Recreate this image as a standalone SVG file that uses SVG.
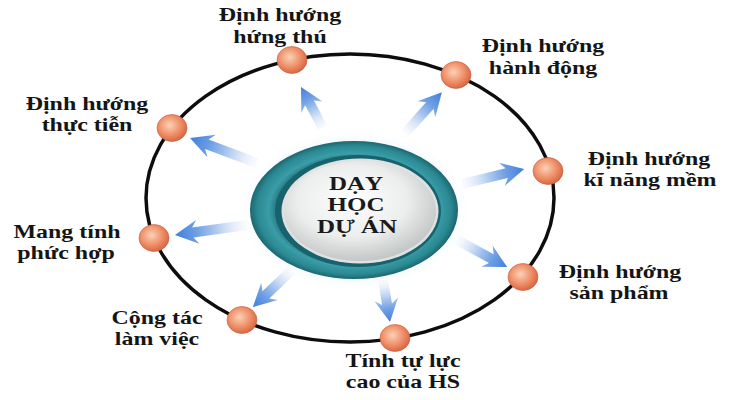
<svg xmlns="http://www.w3.org/2000/svg" width="730" height="400" viewBox="0 0 730 400">
  <defs>
    <style>
      .lbl { font-size: 18px; fill: #151515; text-anchor: middle; font-weight: bold; }
      .ctr { font-size: 18.5px; fill: #1a1a1a; text-anchor: middle; font-weight: bold; }
      .dot { fill: url(#dotGrad); stroke: #c9593a; stroke-width: 0.6; }
      .arr { fill: url(#arrGrad); }
    </style>
    <radialGradient id="dotGrad" cx="0.42" cy="0.4" r="0.65">
      <stop offset="0" stop-color="#fbd2b6"/>
      <stop offset="0.55" stop-color="#ef9069"/>
      <stop offset="1" stop-color="#d3603d"/>
    </radialGradient>
    <linearGradient id="arrGrad" x1="0" y1="0" x2="1" y2="0">
      <stop offset="0" stop-color="#e6eef9" stop-opacity="0.2"/>
      <stop offset="0.45" stop-color="#a9c6ee"/>
      <stop offset="0.7" stop-color="#6f9fe4"/>
      <stop offset="1" stop-color="#3f7fdc"/>
    </linearGradient>
    <radialGradient id="glowGrad" cx="0.5" cy="0.5" r="0.5">
      <stop offset="0.7" stop-color="#d6e6f4" stop-opacity="0.9"/>
      <stop offset="1" stop-color="#ffffff" stop-opacity="0"/>
    </radialGradient>
    <radialGradient id="tealGrad" cx="0.5" cy="0.5" r="0.5">
      <stop offset="0.7" stop-color="#17616b"/>
      <stop offset="0.82" stop-color="#3a9da7"/>
      <stop offset="0.93" stop-color="#2b8993"/>
      <stop offset="1" stop-color="#1b6670"/>
    </radialGradient>
    <radialGradient id="discGrad" cx="0.45" cy="0.4" r="0.6">
      <stop offset="0" stop-color="#ffffff"/>
      <stop offset="0.6" stop-color="#eceded"/>
      <stop offset="1" stop-color="#c4c7c7"/>
    </radialGradient>
  </defs>

  <rect x="0" y="0" width="730" height="400" fill="#ffffff"/>

  <g id="ring">
    <ellipse cx="350" cy="198" rx="204" ry="144" fill="none" stroke="#0d0d0d" stroke-width="3.5"/>
  </g>

  <g id="connectors">
    <path class="arr" transform="translate(323,128) rotate(-118.2)" d="M0,-5 L28.5,-5 L23.5,-12 L46.5,0 L23.5,12 L28.5,5 L0,5 Z"/>
    <path class="arr" transform="translate(405,133) rotate(-47.9)" d="M0,-5 L37,-5 L32,-12 L55,0 L32,12 L37,5 L0,5 Z"/>
    <path class="arr" transform="translate(462,184) rotate(-13.6)" d="M0,-5 L46,-5 L41,-12 L64,0 L41,12 L46,5 L0,5 Z"/>
    <path class="arr" transform="translate(457,240) rotate(28.4)" d="M0,-5 L39,-5 L34,-12 L57,0 L34,12 L39,5 L0,5 Z"/>
    <path class="arr" transform="translate(383,280) rotate(80.5)" d="M0,-5 L24.6,-5 L19.6,-12 L42.6,0 L19.6,12 L24.6,5 L0,5 Z"/>
    <path class="arr" transform="translate(292,270) rotate(136.5)" d="M0,-5 L36,-5 L31,-12 L54,0 L31,12 L36,5 L0,5 Z"/>
    <path class="arr" transform="translate(247,225) rotate(172.1)" d="M0,-5 L54.7,-5 L49.7,-12 L72.7,0 L49.7,12 L54.7,5 L0,5 Z"/>
    <path class="arr" transform="translate(257,163) rotate(-159.5)" d="M0,-5 L53.5,-5 L48.5,-12 L71.5,0 L48.5,12 L53.5,5 L0,5 Z"/>
  </g>

  <g font-family="'Liberation Serif', 'DejaVu Serif', serif">
  <g id="center">
    <ellipse cx="354" cy="210" rx="118" ry="82" fill="url(#glowGrad)"/>
    <ellipse cx="354" cy="210" rx="104" ry="69" fill="url(#tealGrad)"/>
    <ellipse cx="358" cy="211" rx="83" ry="56" fill="#17626c"/>
    <ellipse cx="360" cy="211" rx="78.5" ry="52.5" fill="#dfe2e2"/>
    <ellipse cx="360" cy="211" rx="76" ry="50" fill="url(#discGrad)"/>
    <text class="ctr" transform="translate(356,190) scale(1.35,1)">DẠY</text>
    <text class="ctr" transform="translate(356,211) scale(1.35,1)">HỌC</text>
    <text class="ctr" transform="translate(357,233) scale(1.35,1)">DỰ ÁN</text>
  </g>

  <g id="node-hung-thu">
    <ellipse class="dot" cx="292" cy="60" rx="15" ry="13.5"/>
    <text class="lbl" transform="translate(280,21) scale(1.33,1)">Định hướng</text>
    <text class="lbl" transform="translate(280,43) scale(1.33,1)">hứng thú</text>
  </g>

  <g id="node-hanh-dong">
    <ellipse class="dot" cx="456" cy="75" rx="15" ry="13.5"/>
    <text class="lbl" transform="translate(543,52) scale(1.33,1)">Định hướng</text>
    <text class="lbl" transform="translate(543,74) scale(1.33,1)">hành động</text>
  </g>

  <g id="node-ki-nang-mem">
    <ellipse class="dot" cx="548" cy="171" rx="15" ry="13.5"/>
    <text class="lbl" transform="translate(649,165) scale(1.33,1)">Định hướng</text>
    <text class="lbl" transform="translate(650,186) scale(1.33,1)">kĩ năng mềm</text>
  </g>

  <g id="node-san-pham">
    <ellipse class="dot" cx="523" cy="277" rx="15" ry="13.5"/>
    <text class="lbl" transform="translate(620,278) scale(1.33,1)">Định hướng</text>
    <text class="lbl" transform="translate(619,299) scale(1.33,1)">sản phẩm</text>
  </g>

  <g id="node-tu-luc">
    <ellipse class="dot" cx="395" cy="338" rx="15" ry="13.5"/>
    <text class="lbl" transform="translate(403,367) scale(1.33,1)">Tính tự lực</text>
    <text class="lbl" transform="translate(403,388) scale(1.33,1)">cao của HS</text>
  </g>

  <g id="node-cong-tac">
    <ellipse class="dot" cx="242" cy="320" rx="15" ry="13.5"/>
    <text class="lbl" transform="translate(157,324) scale(1.33,1)">Cộng tác</text>
    <text class="lbl" transform="translate(157,345) scale(1.33,1)">làm việc</text>
  </g>

  <g id="node-phuc-hop">
    <ellipse class="dot" cx="154" cy="238" rx="15" ry="13.5"/>
    <text class="lbl" transform="translate(67,238) scale(1.33,1)">Mang tính</text>
    <text class="lbl" transform="translate(66,259) scale(1.33,1)">phức hợp</text>
  </g>

  <g id="node-thuc-tien">
    <ellipse class="dot" cx="172" cy="128" rx="15" ry="13.5"/>
    <text class="lbl" transform="translate(87,110) scale(1.33,1)">Định hướng</text>
    <text class="lbl" transform="translate(87,131) scale(1.33,1)">thực tiễn</text>
  </g>
  </g>
</svg>
